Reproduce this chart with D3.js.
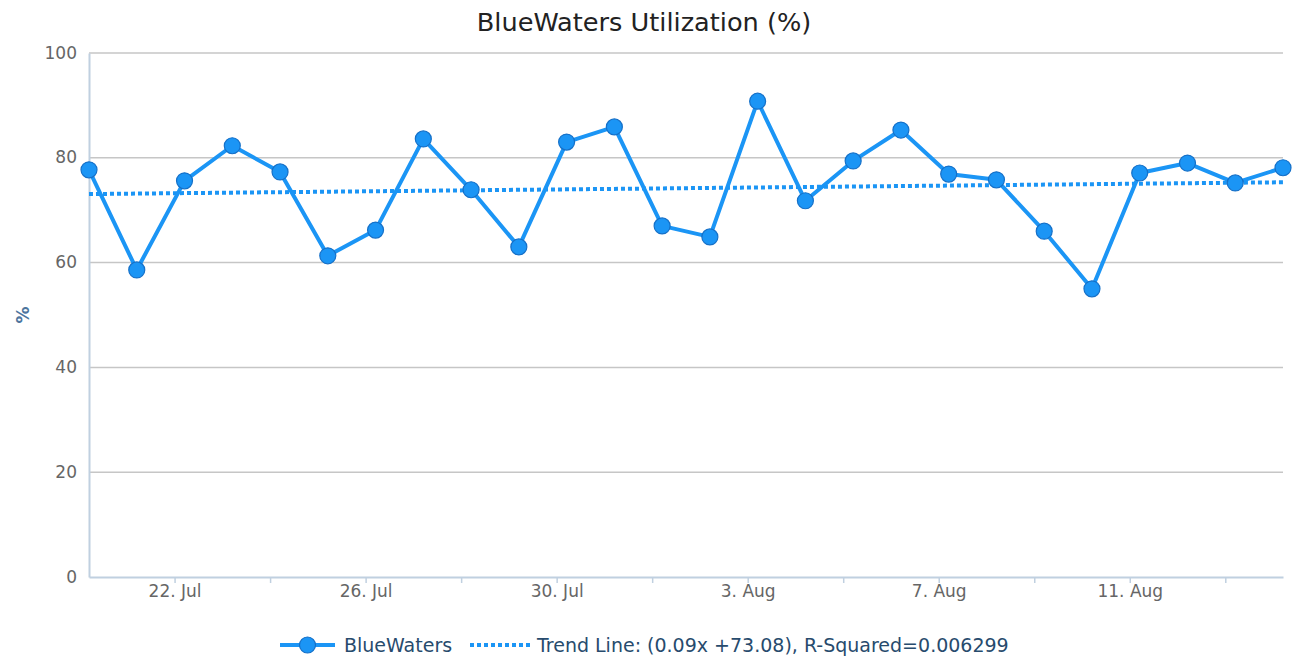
<!DOCTYPE html>
<html>
<head>
<meta charset="utf-8">
<script src="https://cdn.jsdelivr.net/npm/d3@7"></script>
<style>
  html, body { margin: 0; padding: 0; background: #fff; }
  svg { display: block; font-family: "DejaVu Sans", sans-serif; }
</style>
</head>
<body>
<svg id="chart" width="1297" height="658"></svg>
<script>
// ---- data ----
const titleText = "BlueWaters Utilization (%)";
const seriesName = "BlueWaters";
const yAxisTitle = "%";
const dates = [
  "2015-07-20","2015-07-21","2015-07-22","2015-07-23","2015-07-24","2015-07-25",
  "2015-07-26","2015-07-27","2015-07-28","2015-07-29","2015-07-30","2015-07-31",
  "2015-08-01","2015-08-02","2015-08-03","2015-08-04","2015-08-05","2015-08-06",
  "2015-08-07","2015-08-08","2015-08-09","2015-08-10","2015-08-11","2015-08-12",
  "2015-08-13","2015-08-14"
];
const utilization = [
  77.7, 58.6, 75.6, 82.3, 77.3, 61.3, 66.2, 83.6, 73.9, 63.0, 83.0, 85.9, 67.0,
  64.9, 90.8, 71.8, 79.4, 85.3, 76.9, 75.8, 66.0, 55.0, 77.1, 79.0, 75.2, 78.1
];
const trendSlope = 0.09;
const trendIntercept = 73.08;
const trendLabel = "Trend Line: (0.09x +73.08), R-Squared=0.006299";
const yTicks = [0, 20, 40, 60, 80, 100];
const xTickDates = ["2015-07-22","2015-07-24","2015-07-26","2015-07-28","2015-07-30","2015-08-01",
  "2015-08-03","2015-08-05","2015-08-07","2015-08-09","2015-08-11","2015-08-13"];
const xLabelDates = ["2015-07-22","2015-07-26","2015-07-30","2015-08-03","2015-08-07","2015-08-11"];
const pointHourOffset = 5;

// ---- layout ----
const svg = d3.select("#chart");
const m = { left: 89, right: 1283, top: 53, bottom: 577 };
const blue = "#1b95f5";
const blueDark = "#1570c8";

const parseDay = d3.utcParse("%Y-%m-%d");
const pointTime = s => d3.utcHour.offset(parseDay(s), pointHourOffset);
const points = dates.map((d, i) => ({ t: pointTime(d), v: utilization[i], i }));

const x = d3.scaleUtc()
  .domain([points[0].t, points[points.length - 1].t])
  .range([m.left, m.right]);
const y = d3.scaleLinear().domain([0, 100]).range([m.bottom, m.top]);

// title
svg.append("text")
  .attr("x", 644).attr("y", 31)
  .attr("text-anchor", "middle")
  .attr("font-size", 25.6)
  .attr("fill", "#222")
  .text(titleText);

// grid lines
svg.append("g").selectAll("line")
  .data(yTicks.filter(d => d > 0))
  .join("line")
  .attr("x1", m.left).attr("x2", m.right)
  .attr("y1", d => y(d)).attr("y2", d => y(d))
  .attr("stroke", "#c6c6c6").attr("stroke-width", 1.5);

// y axis
const yAxis = d3.axisLeft(y).tickValues(yTicks).tickSize(0).tickPadding(12);
const gy = svg.append("g").attr("transform", `translate(${m.left},0)`).call(yAxis);
gy.select(".domain").attr("stroke", "#c0d0e0").attr("stroke-width", 2);
gy.selectAll("text").attr("font-size", 17).attr("fill", "#666")
  .attr("font-family", "DejaVu Sans, sans-serif").attr("dy", "0.3em");

// y axis title
svg.append("text")
  .attr("transform", `translate(29,${(m.top + m.bottom) / 2}) rotate(-90)`)
  .attr("text-anchor", "middle")
  .attr("font-size", 17).attr("font-weight", "bold")
  .attr("fill", "#4d759e")
  .text(yAxisTitle);

// x axis
const xTicks = xTickDates.map(parseDay);
const labelSet = new Set(xLabelDates);
const fmt = d3.utcFormat("%-d. %b");
const xAxis = d3.axisBottom(x).tickValues(xTicks).tickSize(6).tickSizeOuter(0).tickPadding(2)
  .tickFormat(d => labelSet.has(d3.utcFormat("%Y-%m-%d")(d)) ? fmt(d) : "");
const gx = svg.append("g").attr("transform", `translate(0,${m.bottom})`).call(xAxis);
gx.select(".domain").attr("stroke", "#c0d0e0").attr("stroke-width", 2);
gx.selectAll(".tick line").attr("stroke", "#c0d0e0").attr("stroke-width", 1.5);
gx.selectAll("text").attr("font-size", 17).attr("fill", "#666")
  .attr("font-family", "DejaVu Sans, sans-serif");

// trend line
const trendFn = i => trendSlope * i + trendIntercept;
const n = points.length;
svg.append("line")
  .attr("x1", x(points[0].t)).attr("y1", y(trendFn(0)))
  .attr("x2", x(points[n - 1].t)).attr("y2", y(trendFn(n - 1)))
  .attr("stroke", blue).attr("stroke-width", 4)
  .attr("stroke-dasharray", "4,3");

// series line
const line = d3.line().x(d => x(d.t)).y(d => y(d.v));
svg.append("path").datum(points)
  .attr("d", line)
  .attr("fill", "none")
  .attr("stroke", blue).attr("stroke-width", 4)
  .attr("stroke-linejoin", "round");

svg.append("g").selectAll("circle")
  .data(points)
  .join("circle")
  .attr("cx", d => x(d.t)).attr("cy", d => y(d.v))
  .attr("r", 8)
  .attr("fill", blue)
  .attr("stroke", blueDark).attr("stroke-width", 1.2);

// legend
const lg = svg.append("g");
const ly = 645;
lg.append("line").attr("x1", 280).attr("x2", 335).attr("y1", ly).attr("y2", ly)
  .attr("stroke", blue).attr("stroke-width", 4);
lg.append("circle").attr("cx", 307.5).attr("cy", ly).attr("r", 8)
  .attr("fill", blue).attr("stroke", blueDark).attr("stroke-width", 1.2);
lg.append("text").attr("x", 344).attr("y", ly + 7)
  .attr("font-size", 19).attr("fill", "#274b6d").text(seriesName);
lg.append("line").attr("x1", 470).attr("x2", 530).attr("y1", ly).attr("y2", ly)
  .attr("stroke", blue).attr("stroke-width", 4).attr("stroke-dasharray", "4,3");
lg.append("text").attr("x", 537).attr("y", ly + 7)
  .attr("font-size", 19).attr("fill", "#274b6d").text(trendLabel);
</script>
</body>
</html>
